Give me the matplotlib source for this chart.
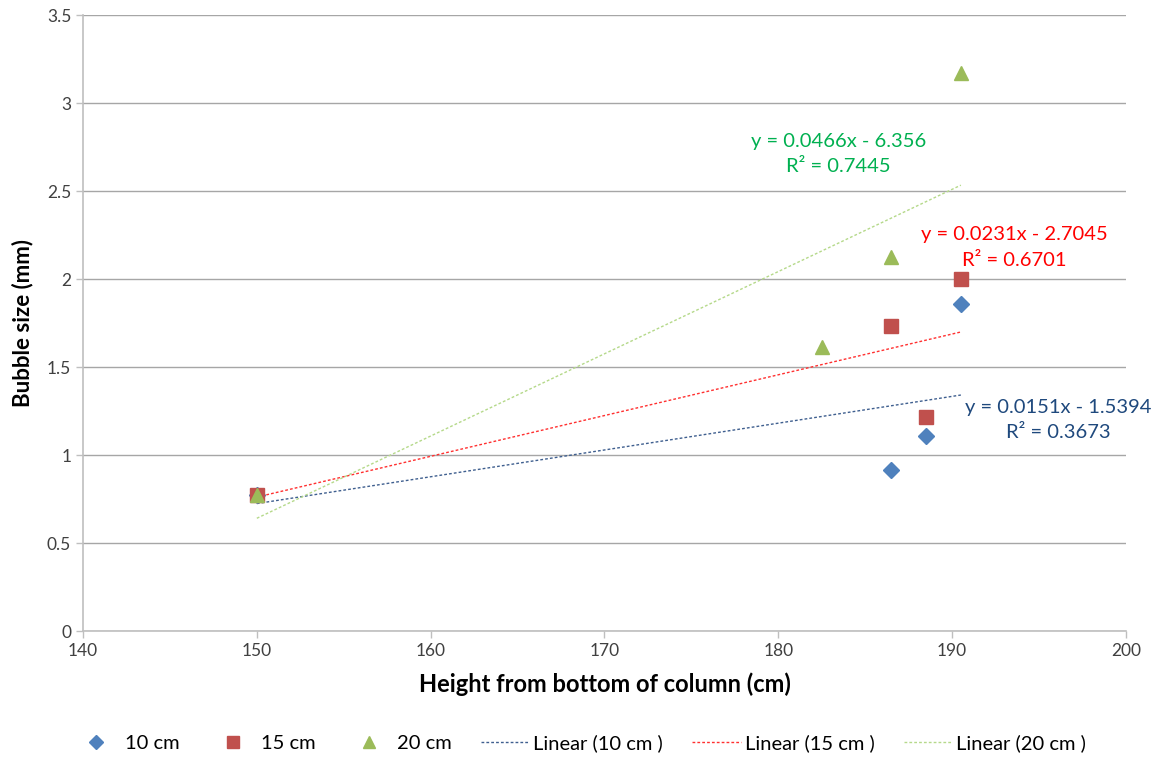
import numpy as np
import matplotlib
matplotlib.use("Agg")
import matplotlib.pyplot as plt
from matplotlib.lines import Line2D

plt.rcParams['font.family'] = ['Lato', 'DejaVu Sans']

x10 = [150, 186.5, 188.5, 190.5]
y10 = [0.77, 0.915, 1.11, 1.86]
x15 = [150, 186.5, 188.5, 190.5]
y15 = [0.77, 1.733, 1.216, 2.0]
x20 = [150, 182.5, 186.5, 190.5]
y20 = [0.77, 1.614, 2.125, 3.17]

eq10 = ["y = 0.0151x - 1.5394", "R² = 0.3673"]
eq15 = ["y = 0.0231x - 2.7045", "R² = 0.6701"]
eq20 = ["y = 0.0466x - 6.356", "R² = 0.7445"]

series = [
    ("10 cm", x10, y10, 'D', '#4F81BD', '#3F5F8F', eq10, '#1F497D', (196.1, 1.20)),
    ("15 cm", x15, y15, 's', '#C0504D', '#FF3030', eq15, '#FF0000', (193.6, 2.18)),
    ("20 cm", x20, y20, '^', '#9BBB59', '#B5D98A', eq20, '#00B050', (183.45, 2.71)),
]

fig = plt.figure(figsize=(11.58, 7.58), dpi=100)
ax = fig.add_axes([83/1158, 1-631/758, (1126-83)/1158, (631-15)/758])

handles_m = []
handles_l = []
for name, xs, ys, mk, mc, lc, eq, tc, pos in series:
    ms = 8 if mk == 'D' else 9.5
    ax.plot(xs, ys, linestyle='none', marker=mk, color=mc, markersize=ms, zorder=3)
    c = np.polyfit(xs, ys, 1)
    xx = np.array([min(xs), max(xs)])
    ax.plot(xx, np.polyval(c, xx), linestyle=(0, (2, 1.5)), color=lc, linewidth=1.0, zorder=2)
    ax.text(pos[0], pos[1], eq[0] + "\n" + eq[1], color=tc, fontsize=14.5,
            ha='center', va='center', linespacing=1.6, clip_on=False)
    handles_m.append(Line2D([], [], linestyle='none', marker=mk, color=mc, markersize=ms - 1, label=name))
    handles_l.append(Line2D([], [], linestyle=(0, (2, 1.5)), color=lc, linewidth=1.0, label="Linear (" + name + " )"))

ax.set_xlim(140, 200)
ax.set_ylim(0, 3.5)
ax.set_xticks(np.arange(140, 201, 10))
ax.set_yticks(np.arange(0, 3.51, 0.5))
ax.set_yticklabels(["0", "0.5", "1", "1.5", "2", "2.5", "3", "3.5"])
ax.grid(axis='y', color='#A6A6A6', linewidth=1.0)
ax.set_axisbelow(True)
for s in ['top', 'right']:
    ax.spines[s].set_visible(False)
for s in ['left', 'bottom']:
    ax.spines[s].set_color('#BFBFBF')
    ax.spines[s].set_linewidth(1.2)
ax.tick_params(axis='both', labelsize=12.5, colors='#BFBFBF', labelcolor='#404040', length=5, width=1)
ax.set_xlabel("Height from bottom of column (cm)", fontsize=17, fontweight='bold', labelpad=10)
ax.set_ylabel("Bubble size (mm)", fontsize=16, fontweight='bold', labelpad=10)

fig.legend(handles=handles_m + handles_l, loc='center', bbox_to_anchor=(0.5, 1 - 743/758),
           ncol=6, frameon=False, fontsize=14.5, handlelength=2.4, columnspacing=1.45, handletextpad=0.2)

fig.savefig("out.png", dpi=100)
